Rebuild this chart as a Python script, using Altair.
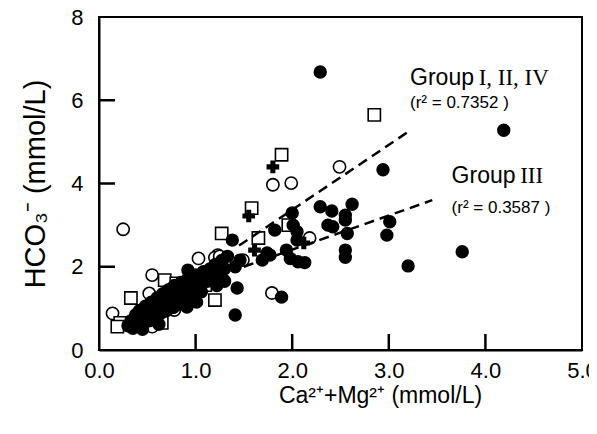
import altair as alt
import pandas as pd

# ---- data ----
filled_x = [2.29, 4.19, 2.94, 3.76, 3.20, 3.01, 2.98, 2.62, 2.55, 2.55, 2.57, 2.55, 2.55,
            2.41, 2.29, 2.37, 2.42, 2.00, 1.82, 2.05, 2.05, 1.94, 1.98, 2.06, 2.13, 1.74,
            1.69, 1.77, 1.43, 1.89, 1.38, 1.41, 1.46, 1.41, 1.01, 0.92, 0.91, 2.01, 1.29,
            0.30, 0.33, 0.36, 0.38, 0.40, 0.42, 0.44, 0.46, 0.48, 0.50, 0.52, 0.54, 0.56,
            0.58, 0.60, 0.62, 0.64, 0.66, 0.68, 0.70, 0.72, 0.74, 0.76, 0.78, 0.80, 0.82,
            0.85, 0.87, 0.90, 0.92, 0.95, 0.98, 1.00, 1.03, 1.06, 1.08, 1.12, 1.15, 1.18,
            1.20, 1.24, 1.27, 1.30, 1.33, 1.22, 1.30, 0.62, 0.45, 0.35]
filled_y = [6.68, 5.28, 4.33, 2.36, 2.02, 3.08, 2.76, 3.50, 3.24, 3.12, 2.80, 2.40, 2.23,
            3.34, 3.44, 3.00, 2.96, 3.29, 2.88, 2.84, 2.64, 2.40, 2.20, 2.12, 2.10, 2.33,
            2.16, 2.28, 1.49, 1.27, 2.64, 2.00, 2.16, 0.84, 1.15, 1.92, 1.03, 3.00, 1.68,
            0.58, 0.70, 0.62, 0.85, 0.72, 0.95, 0.60, 0.82, 1.05, 0.90, 0.70, 1.15, 0.98,
            0.80, 1.25, 1.05, 0.88, 1.35, 1.12, 0.95, 1.45, 1.20, 1.02, 1.55, 1.30, 1.10,
            1.62, 1.40, 1.20, 1.72, 1.50, 1.30, 1.80, 1.58, 1.40, 1.88, 1.65, 1.95, 1.75,
            2.05, 1.85, 2.15, 1.95, 2.25, 1.55, 1.65, 0.62, 0.50, 0.52]

open_x = [0.25, 0.14, 0.55, 0.52, 0.55, 0.78, 1.03, 1.23, 1.20, 1.25, 1.49, 1.79, 1.80,
          1.99, 2.49, 2.18, 0.77, 0.65, 0.95]
open_y = [2.90, 0.88, 1.80, 1.36, 0.56, 0.96, 2.20, 2.28, 2.22, 2.25, 2.16, 1.37, 3.97,
          4.01, 4.40, 2.69, 1.03, 1.10, 1.30]

square_x = [2.85, 1.89, 1.58, 1.96, 1.65, 1.27, 1.20, 0.68, 0.82, 0.33, 0.22, 0.19, 0.65,
            1.10, 0.80]
square_y = [5.65, 4.69, 3.41, 3.00, 2.69, 2.80, 1.20, 1.68, 1.51, 1.25, 0.65, 0.56, 0.65,
            1.56, 1.60]

plus_x = [1.80, 1.55, 1.61, 2.12]
plus_y = [4.40, 3.22, 2.40, 2.57]

# regression lines (end points)
line1_x = [1.45, 3.20]
line1_y = [2.51, 5.24]
line2_x = [1.50, 3.45]
line2_y = [2.00, 3.60]

# annotations
grp_text = ["Group", "Group"]
grp_x = [3.22, 3.65]
grp_y = [6.37, 4.01]
roman_text = ["I, II, IV", "III"]
roman_x = [3.93, 4.36]
roman_y = [6.37, 4.01]
r2_text = ["(r\u00b2 = 0.7352 )", "(r\u00b2 = 0.3587 )"]
r2_x = [3.22, 3.65]
r2_y = [5.82, 3.29]

x_ticks = [0, 1, 2, 3, 4, 5]
y_ticks = [0, 2, 4, 6, 8]
x_inner_ticks = [1, 2, 3, 4]
y_inner_ticks = [2, 4, 6]

# ---- build ----
W, H = 483, 333
XMAX, YMAX = 5, 8
TICK_PX = 16
xs = alt.Scale(domain=[0, XMAX], nice=False, zero=True)
ys = alt.Scale(domain=[0, YMAX], nice=False, zero=True)

FONT = "Liberation Sans"

X = alt.X("x:Q", scale=xs,
          axis=alt.Axis(values=x_ticks, ticks=False, grid=False, labelFontSize=22,
                        labelFont=FONT, labelColor="black", labelPadding=10,
                        domainColor="black", domainWidth=2,
                        title="Ca\u00b2\u207a+Mg\u00b2\u207a (mmol/L)", titleFont=FONT,
                        titleFontSize=23, titleFontWeight="normal", titleColor="black",
                        titleX=281, titleY=52, titleBaseline="alphabetic", labelFlush=False))
Y = alt.Y("y:Q", scale=ys,
          axis=alt.Axis(values=y_ticks, ticks=False, grid=False, labelFontSize=22,
                        labelFont=FONT, labelColor="black", labelPadding=16,
                        domainColor="black", domainWidth=2,
                        title="HCO\u2083\u207b (mmol/L)", titleFont=FONT,
                        titleFontSize=29, titleFontWeight="normal", titleColor="black",
                        titlePadding=20, labelFlush=False))
# plain encodings (no axis settings) for the tick layers
XP = alt.X("x:Q", scale=xs)
YP = alt.Y("y:Q", scale=ys)

df_f = pd.DataFrame({"x": filled_x, "y": filled_y})
df_o = pd.DataFrame({"x": open_x, "y": open_y})
df_s = pd.DataFrame({"x": square_x, "y": square_y})
df_p = pd.DataFrame({"x": plus_x, "y": plus_y})

opens = alt.Chart(df_o).mark_point(shape="circle", size=150, filled=True, fill="white",
                                   stroke="black", strokeWidth=1.6, opacity=1).encode(x=X, y=Y)
squares = alt.Chart(df_s).mark_point(shape="square", size=150, filled=True, fill="white",
                                     stroke="black", strokeWidth=1.6, opacity=1).encode(x=X, y=Y)
filled = alt.Chart(df_f).mark_point(shape="circle", size=130, filled=True, fill="black",
                                    stroke="black", opacity=1).encode(x=X, y=Y)
plus = alt.Chart(df_p).mark_point(shape="cross", size=160, filled=True, fill="black",
                                  opacity=1).encode(x=X, y=Y)

lines_df = pd.DataFrame({
    "x": line1_x + line2_x,
    "y": line1_y + line2_y,
    "g": ["a", "a", "b", "b"],
})
lines = alt.Chart(lines_df).mark_line(color="black", strokeWidth=2.5,
                                      strokeDash=[10, 6]).encode(x=X, y=Y, detail="g:N")

# inward ticks on the bottom and left edges
xt = alt.Chart(pd.DataFrame({"x": x_inner_ticks})).mark_rule(
    color="black", strokeWidth=2.5).encode(x=XP, y=alt.value(H), y2=alt.value(H - TICK_PX))
yt = alt.Chart(pd.DataFrame({"y": y_inner_ticks})).mark_rule(
    color="black", strokeWidth=2.5).encode(y=YP, x=alt.value(0), x2=alt.value(TICK_PX))

grp = alt.Chart(pd.DataFrame({"x": grp_x, "y": grp_y, "t": grp_text})).mark_text(
    font=FONT, fontSize=23, align="left", baseline="alphabetic", color="black"
).encode(x=X, y=Y, text="t:N")
roman = alt.Chart(pd.DataFrame({"x": roman_x, "y": roman_y, "t": roman_text})).mark_text(
    font="Liberation Serif", fontSize=23, align="left", baseline="alphabetic", color="black"
).encode(x=X, y=Y, text="t:N")
r2 = alt.Chart(pd.DataFrame({"x": r2_x, "y": r2_y, "t": r2_text})).mark_text(
    font=FONT, fontSize=17, align="left", baseline="alphabetic", color="black"
).encode(x=X, y=Y, text="t:N")

chart = alt.layer(opens, squares, filled, plus, lines, grp, roman, r2, xt, yt).properties(
    width=W, height=H,
    background="white",
    autosize=alt.AutoSizeParams(type="none"),
    padding={"left": 91, "top": 9, "right": 7, "bottom": 76},
).configure_view(stroke="black", strokeWidth=2)

chart.save("out.html", embed_options={"renderer": "svg", "actions": False})
